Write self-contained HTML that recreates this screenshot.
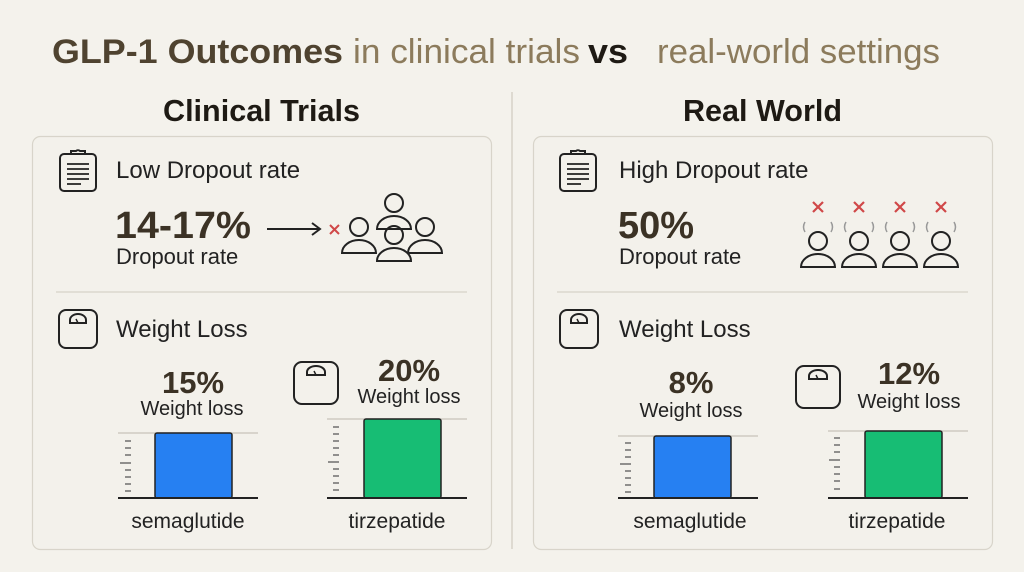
<!DOCTYPE html>
<html><head><meta charset="utf-8"><style>
html,body{margin:0;padding:0;background:#f4f2ec;}
svg{display:block;font-family:"Liberation Sans",sans-serif;}
</style></head><body>
<svg width="1024" height="572" viewBox="0 0 1024 572" xmlns="http://www.w3.org/2000/svg">
<rect width="1024" height="572" fill="#f4f2ec"/>
<!-- title -->
<g font-family="'Liberation Sans Narrow','Liberation Sans',sans-serif" font-size="34">
<text x="52" y="63" font-weight="bold" fill="#4f4330" textLength="291" lengthAdjust="spacingAndGlyphs">GLP-1 Outcomes</text>
<text x="353" y="63" fill="#8c7b5c" textLength="227" lengthAdjust="spacingAndGlyphs">in clinical trials</text>
<text x="588" y="63" font-weight="bold" fill="#1e1a14" textLength="40" lengthAdjust="spacingAndGlyphs">vs</text>
<text x="657" y="63" fill="#8c7b5c" textLength="283" lengthAdjust="spacingAndGlyphs">real-world settings</text>
<text x="163" y="121" font-weight="bold" font-size="31" fill="#1e1a14" textLength="197" lengthAdjust="spacingAndGlyphs">Clinical Trials</text>
<text x="683" y="121" font-weight="bold" font-size="31" fill="#1e1a14" textLength="159" lengthAdjust="spacingAndGlyphs">Real World</text>
</g>
<line x1="512" y1="92" x2="512" y2="549" stroke="#d6d2c8" stroke-width="1.5"/>
<!-- panels -->
<rect x="32.5" y="136.5" width="459" height="413" rx="8" fill="#f3f1eb" stroke="#d8d4ca" stroke-width="1.2"/>
<rect x="533.5" y="136.5" width="459" height="413" rx="8" fill="#f3f1eb" stroke="#d8d4ca" stroke-width="1.2"/>
<line x1="56" y1="292" x2="467" y2="292" stroke="#d6d2c8" stroke-width="1.2"/>
<line x1="557" y1="292" x2="968" y2="292" stroke="#d6d2c8" stroke-width="1.2"/>

<defs>
<g id="clip" fill="none" stroke="#222" stroke-width="2">
<rect x="0" y="4" width="36" height="37" rx="4"/>
<path d="M11 4 v-3 h5 a3 3 0 0 1 4 0 h5 v3"/>
<path d="M7 14 h22 M7 19 h22 M7 24 h22 M7 29 h22 M7 34 h14" stroke-width="1.8"/>
</g>
<g id="scale" fill="none" stroke="#222" stroke-width="2">
<rect x="0" y="0" width="38" height="38" rx="7"/>
<path d="M11 10 a8 6 0 0 1 16 0 v3 h-16 z"/>
<path d="M19 13 l-2 -4" stroke-width="1.5"/>
</g>
<g id="scaleB" fill="none" stroke="#222" stroke-width="2">
<rect x="0" y="0" width="44" height="42" rx="8"/>
<path d="M13 10 a9 6 0 0 1 18 0 v3 h-18 z"/>
<path d="M22 13 l-2 -4" stroke-width="1.5"/>
</g>
<g id="person" fill="none" stroke="#222" stroke-width="2">
<circle cx="0" cy="0" r="9"/>
<path d="M-17 26 a17 13 0 0 1 34 0 z"/>
</g>
</defs>

<!-- left top -->
<use href="#clip" x="60" y="150"/>
<text x="116" y="178" font-size="24" fill="#222">Low Dropout rate</text>
<text x="115" y="238" font-size="38" font-weight="bold" fill="#3b3225" textLength="136" lengthAdjust="spacingAndGlyphs">14-17%</text>
<text x="116" y="264" font-size="22" fill="#222">Dropout rate</text>
<path d="M267 229 h52 M312 223 l8 6 -8 6" fill="none" stroke="#222" stroke-width="2"/>
<path d="M330 225 l9 9 M339 225 l-9 9" stroke="#d04848" stroke-width="2"/>
<use href="#person" x="359" y="227"/>
<use href="#person" x="394" y="203"/>
<use href="#person" x="425" y="227"/>
<use href="#person" x="394" y="235"/>

<!-- left bottom -->
<use href="#scale" x="59" y="310"/>
<text x="116" y="337" font-size="24" fill="#222">Weight Loss</text>
<text x="193" y="393" font-size="31" font-weight="bold" fill="#3b3225" text-anchor="middle">15%</text>
<text x="192" y="415" font-size="20" fill="#222" text-anchor="middle">Weight loss</text>
<use href="#scaleB" x="294" y="362"/>
<text x="409" y="381" font-size="31" font-weight="bold" fill="#3b3225" text-anchor="middle">20%</text>
<text x="409" y="403" font-size="20" fill="#222" text-anchor="middle">Weight loss</text>

<line x1="118" y1="433" x2="258" y2="433" stroke="#c8c4ba" stroke-width="1.2"/>
<rect x="155" y="433" width="77" height="65" rx="2" fill="#2680f2" stroke="#222" stroke-width="1.5"/>
<line x1="118" y1="498" x2="258" y2="498" stroke="#222" stroke-width="2"/>
<path d="M125 441h6M125 448h6M125 455h6M120 463h11M125 470h6M125 477h6M125 484h6M125 491h6" stroke="#555" stroke-width="1.3"/>
<line x1="327" y1="419" x2="467" y2="419" stroke="#c8c4ba" stroke-width="1.2"/>
<rect x="364" y="419" width="77" height="79" rx="2" fill="#17bd74" stroke="#222" stroke-width="1.5"/>
<line x1="327" y1="498" x2="467" y2="498" stroke="#222" stroke-width="2"/>
<path d="M333 427h6M333 434h6M333 441h6M333 448h6M333 455h6M328 462h11M333 469h6M333 476h6M333 483h6M333 490h6" stroke="#555" stroke-width="1.3"/>
<text x="188" y="528" font-size="21" fill="#222" text-anchor="middle">semaglutide</text>
<text x="397" y="528" font-size="21" fill="#222" text-anchor="middle">tirzepatide</text>

<!-- right top -->
<use href="#clip" x="560" y="150"/>
<text x="619" y="178" font-size="24" fill="#222">High Dropout rate</text>
<text x="618" y="238" font-size="38" font-weight="bold" fill="#3b3225">50%</text>
<text x="619" y="264" font-size="22" fill="#222">Dropout rate</text>
<g>
<use href="#person" x="818" y="241"/>
<use href="#person" x="859" y="241"/>
<use href="#person" x="900" y="241"/>
<use href="#person" x="941" y="241"/>
<g stroke="#d04848" stroke-width="2.2">
<path d="M813 202l10 10M823 202l-10 10M854 202l10 10M864 202l-10 10M895 202l10 10M905 202l-10 10M936 202l10 10M946 202l-10 10"/>
</g>
<g fill="none" stroke="#999" stroke-width="1.5">
<path d="M805 222q-3 5 0 10M831 222q3 5 0 10M846 222q-3 5 0 10M872 222q3 5 0 10M887 222q-3 5 0 10M913 222q3 5 0 10M928 222q-3 5 0 10M954 222q3 5 0 10"/>
</g>
</g>

<!-- right bottom -->
<use href="#scale" x="560" y="310"/>
<text x="619" y="337" font-size="24" fill="#222">Weight Loss</text>
<text x="691" y="393" font-size="31" font-weight="bold" fill="#3b3225" text-anchor="middle">8%</text>
<text x="691" y="417" font-size="20" fill="#222" text-anchor="middle">Weight loss</text>
<use href="#scaleB" x="796" y="366"/>
<text x="909" y="384" font-size="31" font-weight="bold" fill="#3b3225" text-anchor="middle">12%</text>
<text x="909" y="408" font-size="20" fill="#222" text-anchor="middle">Weight loss</text>
<line x1="618" y1="436" x2="758" y2="436" stroke="#c8c4ba" stroke-width="1.2"/>
<rect x="654" y="436" width="77" height="62" rx="2" fill="#2680f2" stroke="#222" stroke-width="1.5"/>
<line x1="618" y1="498" x2="758" y2="498" stroke="#222" stroke-width="2"/>
<path d="M625 443h6M625 450h6M625 457h6M620 464h11M625 471h6M625 478h6M625 485h6M625 492h6" stroke="#555" stroke-width="1.3"/>
<line x1="828" y1="431" x2="968" y2="431" stroke="#c8c4ba" stroke-width="1.2"/>
<rect x="865" y="431" width="77" height="67" rx="2" fill="#17bd74" stroke="#222" stroke-width="1.5"/>
<line x1="828" y1="498" x2="968" y2="498" stroke="#222" stroke-width="2"/>
<path d="M834 438h6M834 445h6M834 452h6M829 460h11M834 467h6M834 474h6M834 481h6M834 489h6" stroke="#555" stroke-width="1.3"/>
<text x="690" y="528" font-size="21" fill="#222" text-anchor="middle">semaglutide</text>
<text x="897" y="528" font-size="21" fill="#222" text-anchor="middle">tirzepatide</text>
</svg>
</body></html>
